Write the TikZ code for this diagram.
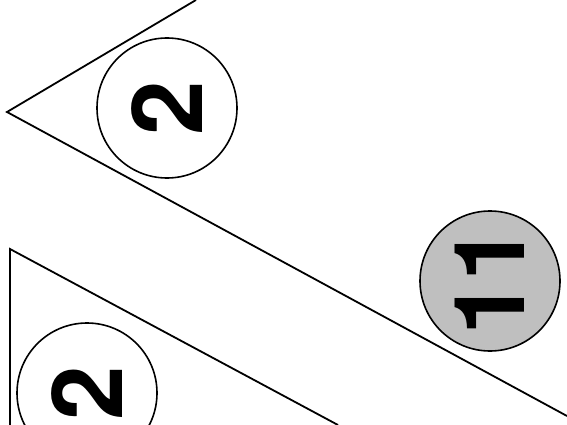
\documentclass[tikz,border=0pt]{standalone}
\usepackage{fontspec}
\setmainfont{TeX Gyre Heros}
\begin{document}
\begin{tikzpicture}[x=1pt,y=-1pt,
  edge/.style={line width=1.8pt, line join=miter},
  badge/.style={circle, draw, line width=1.6pt, minimum size=140pt, inner sep=0pt,
    font=\fontsize{98}{98}\selectfont\bfseries},
  shaded/.style={fill=black!25}]
\useasboundingbox (0,0) rectangle (567,425);
\coordinate (t1) at (196,0);
\coordinate (apex) at (7,112);
\coordinate (t2) at (567,416);
\coordinate (b0) at (10,425);
\coordinate (bc) at (10,249);
\coordinate (b2) at (338,425);
\draw[edge] (t1) -- (apex) -- (t2);
\draw[edge] (b0) -- (bc) -- (b2);
\node[badge] (c2a) at (167,108) {\rotatebox{90}{2}};
\node[badge, shaded] (c11) at (490,281) {\rotatebox{90}{11}};
\node[badge] (c2b) at (87,393) {\rotatebox{90}{2}};
\end{tikzpicture}
\end{document}
